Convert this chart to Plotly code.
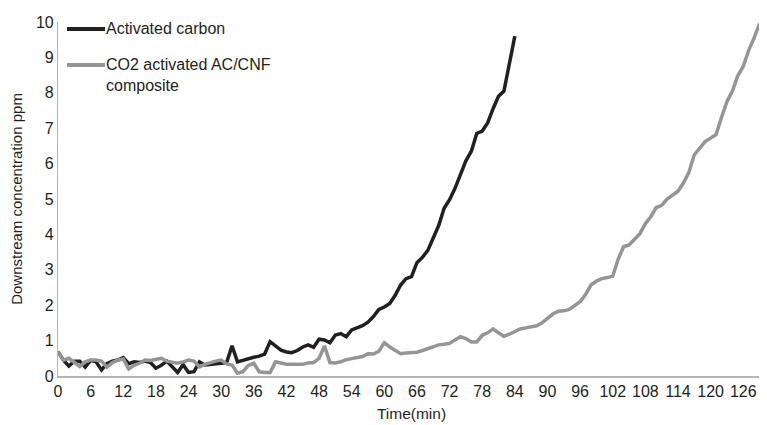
import plotly.graph_objects as go

# Time (min) for each series
time_ac = list(range(0, 85))
time_cnf = list(range(0, 130))

# Activated carbon (ppm)
conc_ac = [0.69, 0.45, 0.28, 0.42, 0.42, 0.25, 0.44, 0.40, 0.17, 0.35,
           0.42, 0.45, 0.52, 0.35, 0.40, 0.38, 0.42, 0.38, 0.22, 0.30,
           0.42, 0.25, 0.10, 0.32, 0.10, 0.12, 0.40, 0.31, 0.32, 0.33,
           0.36, 0.38, 0.85, 0.40, 0.45, 0.50, 0.53, 0.56, 0.62, 0.97,
           0.85, 0.73, 0.68, 0.66, 0.72, 0.82, 0.88, 0.81, 1.04, 1.02,
           0.94, 1.16, 1.20, 1.11, 1.30, 1.36, 1.42, 1.52, 1.68, 1.88,
           1.95, 2.05, 2.28, 2.57, 2.75, 2.81, 3.20, 3.35, 3.55, 3.90,
           4.25, 4.74, 4.98, 5.30, 5.68, 6.08, 6.35, 6.85, 6.92, 7.15,
           7.55, 7.90, 8.05, 8.80, 9.60]

# CO2 activated AC/CNF composite (ppm)
conc_cnf = [0.69, 0.45, 0.50, 0.38, 0.27, 0.40, 0.45, 0.45, 0.42, 0.25,
            0.38, 0.45, 0.48, 0.20, 0.30, 0.36, 0.45, 0.44, 0.47, 0.50,
            0.42, 0.38, 0.36, 0.40, 0.45, 0.42, 0.26, 0.33, 0.38, 0.42,
            0.45, 0.34, 0.31, 0.08, 0.12, 0.30, 0.36, 0.12, 0.10, 0.10,
            0.40, 0.36, 0.33, 0.33, 0.33, 0.33, 0.37, 0.38, 0.50, 0.85,
            0.38, 0.37, 0.40, 0.46, 0.49, 0.52, 0.55, 0.63, 0.62, 0.70,
            0.94, 0.82, 0.72, 0.63, 0.65, 0.66, 0.67, 0.72, 0.78, 0.83,
            0.88, 0.90, 0.92, 1.02, 1.11, 1.06, 0.96, 0.96, 1.15, 1.22,
            1.33, 1.22, 1.12, 1.18, 1.26, 1.33, 1.36, 1.40, 1.42, 1.50,
            1.62, 1.75, 1.83, 1.84, 1.88, 1.98, 2.10, 2.30, 2.57, 2.68,
            2.75, 2.78, 2.82, 3.30, 3.65, 3.70, 3.85, 4.02, 4.30, 4.50,
            4.76, 4.82, 5.00, 5.12, 5.22, 5.45, 5.75, 6.25, 6.45, 6.62,
            6.72, 6.82, 7.30, 7.75, 8.05, 8.48, 8.75, 9.20, 9.55, 9.95]

x_ticks = list(range(0, 127, 6))
y_ticks = list(range(0, 11))

names = ["Activated carbon", "CO2 activated AC/CNF<br>composite"]
colors = ["#231f20", "#959595"]

FONT = "Liberation Sans, Arial, Helvetica, sans-serif"

# the page body adds an 8px offset, so the figure is sized 16px smaller
OFF = 8
W, H = 767 - OFF, 425 - OFF
L, T = 58 - OFF, 22 - OFF
PW, PH = 707, 354
R, B = W - L - PW, H - T - PH


def px_to_paper_x(px):
    return (px - OFF - L) / PW


def py_to_paper_y(py):
    return (T + PH - (py - OFF)) / PH


fig = go.Figure()
fig.add_trace(go.Scatter(x=time_ac, y=conc_ac, mode="lines", name=names[0],
                         line=dict(color=colors[0], width=3.5)))
fig.add_trace(go.Scatter(x=time_cnf, y=conc_cnf, mode="lines", name=names[1],
                         line=dict(color=colors[1], width=3.5)))

# legend drawn manually (sample line + label) to match the original layout
legend_rows = [29, 65]
legend_text_y = [29, 75]
shapes = []
annotations = []
for i in range(2):
    yl = py_to_paper_y(legend_rows[i])
    shapes.append(dict(type="line", xref="paper", yref="paper",
                       x0=px_to_paper_x(67), x1=px_to_paper_x(105),
                       y0=yl, y1=yl,
                       line=dict(color=colors[i], width=4)))
    annotations.append(dict(xref="paper", yref="paper",
                            x=px_to_paper_x(105), y=py_to_paper_y(legend_text_y[i]),
                            xanchor="left", yanchor="middle", align="left",
                            text=names[i], showarrow=False, borderpad=0,
                            font=dict(size=16, color="#231f20", family=FONT)))

fig.update_layout(
    width=W, height=H,
    margin=dict(l=L, r=R, t=T, b=B),
    paper_bgcolor="white", plot_bgcolor="white",
    font=dict(family=FONT, size=16, color="#231f20"),
    showlegend=False,
    shapes=shapes,
    annotations=annotations,
    xaxis=dict(range=[0, 130], tickmode="array", tickvals=x_ticks,
               ticktext=[str(t) for t in x_ticks],
               showgrid=False, zeroline=False, showline=True,
               linecolor="#b4b4b4", linewidth=2, ticks="",
               automargin=False,
               tickfont=dict(size=16),
               title=dict(text="Time(min)", font=dict(size=15.5), standoff=9)),
    yaxis=dict(range=[0, 10], tickmode="array", tickvals=y_ticks,
               showgrid=False, zeroline=False, showline=True,
               linecolor="#b4b4b4", linewidth=1.2, ticks="",
               automargin=False,
               tickfont=dict(size=16),
               title=dict(text="Downstream concentration ppm",
                          font=dict(size=15), standoff=9)),
)

fig.write_html("out.html")
